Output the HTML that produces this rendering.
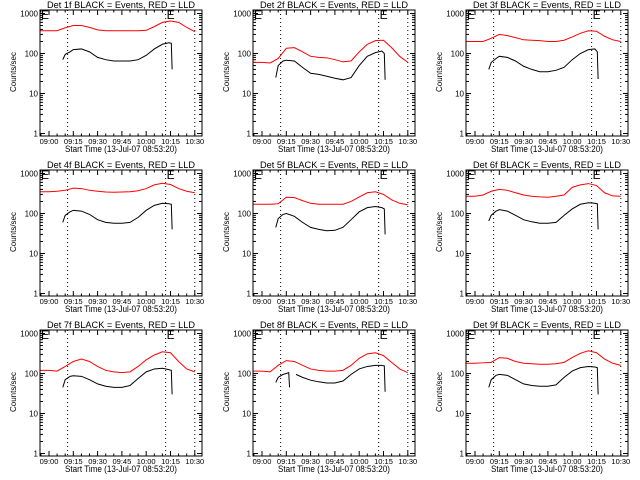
<!DOCTYPE html>
<html><head><meta charset="utf-8">
<style>
html,body{margin:0;padding:0;background:#fff;}
svg{display:block;font-family:"Liberation Sans",sans-serif;}
</style></head>
<body>
<svg id="chart" width="640" height="480" viewBox="0 0 640 480"></svg>
<script>
// ---- data (minutes after 09:00) ----
const panelTitles = ["Det 1f","Det 2f","Det 3f","Det 4f","Det 5f","Det 6f","Det 7f","Det 8f","Det 9f"];
const tickLabels = ["09:00","09:15","09:30","09:45","10:00","10:15","10:30"];
const tickMinutes = [0,15,30,45,60,75,90];
const yTickValues = [1,10,100,1000];
const yTickLabels = ["1","10","100","1000"];
const markerMinutes = [11.5,72,90];
const redT = [-5.5,0,5,10,15,20,25,30,35,40,45,50,55,60,65,70,75,80,85,90];
const red1 = [370,370,370,440,500,500,450,390,370,370,370,370,370,380,470,600,650,600,450,350];
const red2 = [60,60,58,75,135,140,110,85,80,78,70,62,65,110,170,210,215,140,85,60];
const red3 = [200,200,200,240,300,280,250,220,215,210,200,200,215,260,320,370,360,270,220,200];
const red4 = [350,350,360,380,430,420,380,360,345,340,345,350,370,420,520,570,530,420,360,330];
const red5 = [170,170,170,175,255,250,210,180,170,170,170,170,200,260,330,350,300,220,180,165];
const red6 = [270,270,290,360,400,380,330,290,270,260,255,270,290,450,520,560,500,330,275,270];
const red7 = [120,120,115,150,200,230,200,150,120,110,105,110,150,220,290,350,330,200,130,110];
const red8 = [115,115,110,160,210,200,160,130,120,115,115,120,160,240,310,330,280,190,130,105];
const red9 = [180,180,185,190,250,240,200,180,175,170,170,175,190,250,320,370,330,230,180,160];
const blackT = [8.5,10,13,15,20,25,30,35,40,45,50,55,60,65,70,74,75.5,76];
const black1 = [70,95,110,125,130,110,80,70,65,65,65,70,90,130,170,185,180,40];
const black2 = [25,50,65,68,65,45,32,30,27,24,22,25,50,85,105,115,100,22];
const black3 = [40,60,75,85,80,65,48,40,35,35,38,45,70,100,125,130,110,23];
const black4 = [60,90,110,120,115,95,70,60,57,57,60,80,120,160,180,175,170,40];
const black5 = [45,75,95,100,85,60,45,40,37,38,45,70,110,140,150,140,130,30];
const black6 = [65,90,115,125,115,90,70,62,57,57,60,90,130,170,185,180,175,40];
const black7 = [45,70,85,88,85,70,55,48,45,45,50,75,110,130,135,125,120,30];
const black8 = [60,80,95,100,null,80,68,62,58,58,65,95,130,150,160,160,155,35];
const black9 = [45,70,90,95,90,70,55,50,48,48,52,80,115,140,150,145,140,30];
const reds = [red1,red2,red3,red4,red5,red6,red7,red8,red9];
const blacks = [black1,black2,black3,black4,black5,black6,black7,black8,black9];
const black8gapT = [15,16.5,17,21];
const black8gapV = [100,105,45,95];

const NS="http://www.w3.org/2000/svg";
const svg=document.getElementById('chart');
function mk(tag,attrs,parent){const e=document.createElementNS(NS,tag);for(const k in attrs)e.setAttribute(k,attrs[k]);(parent||svg).appendChild(e);return e;}
const lefts=[40,253,466], tops=[10,170,330], W=162, H=126;

for(let p=0;p<9;p++){
  const L=lefts[p%3], T=tops[Math.floor(p/3)], B=T+H, R=L+W;
  const g=mk('g',{});
  
  
  const xs=t=>L+9+t*1.62;
  const ys=v=>B-2.5-40*Math.log10(v);
  const title=mk('text',{x:(L+R)/2,y:T-2,'text-anchor':'middle','font-size':'9.5',textLength:148,lengthAdjust:'spacingAndGlyphs'},g);
  title.textContent=panelTitles[p]+" BLACK = Events, RED = LLD";
  
  
  const yl=mk('text',{x:0,y:0,'text-anchor':'middle','font-size':'8',transform:`translate(${L-24},${T+62}) rotate(-90)`},g);
  yl.textContent="Counts/sec";
  
  
  const xl=mk('text',{x:L+81,y:B+16,'text-anchor':'middle','font-size':'9',textLength:112,lengthAdjust:'spacingAndGlyphs'},g);
  xl.textContent="Start Time (13-Jul-07 08:53:20)";
  
  
  for(let d=0;d<4;d++){
    const yy=ys(yTickValues[d]);
    mk('line',{x1:L,x2:L+5,y1:yy,y2:yy,stroke:'#000'},g);
    mk('line',{x1:R,x2:R-5,y1:yy,y2:yy,stroke:'#000'},g);
    const tl=mk('text',{x:L-2,y:yy+3,'text-anchor':'end','font-size':'8'},g);
    tl.textContent=yTickLabels[d];
    
    
    if(d<3)for(let m=2;m<10;m++){const y2=ys(yTickValues[d]*m);
      mk('line',{x1:L,x2:L+3,y1:y2,y2:y2,stroke:'#000'},g);
      mk('line',{x1:R,x2:R-3,y1:y2,y2:y2,stroke:'#000'},g);}
  }
  for(let i=0;i<tickMinutes.length;i++){
    const xx=xs(tickMinutes[i]);
    mk('line',{x1:xx,x2:xx,y1:B,y2:B-5,stroke:'#000'},g);
    mk('line',{x1:xx,x2:xx,y1:T,y2:T+5,stroke:'#000'},g);
    const tl=mk('text',{x:xx,y:B+8,'text-anchor':'middle','font-size':'7.5'},g);
    tl.textContent=tickLabels[i];
    
    
  }
  for(let t=-5;t<=90;t+=5){if(t%15===0)continue;const xx=xs(t);
    mk('line',{x1:xx,x2:xx,y1:B,y2:B-2.5,stroke:'#000'},g);
    mk('line',{x1:xx,x2:xx,y1:T,y2:T+2.5,stroke:'#000'},g);}
  markerMinutes.forEach(m=>{const xx=xs(m);
    const ln=mk('line',{x1:xx,x2:xx,y1:T,y2:B,stroke:'#000','stroke-dasharray':'1,3'},g);
    
    });
  [L+1,xs(markerMinutes[1])+1].forEach(xx=>{const e=mk('text',{x:xx,y:T+9,'font-size':'12'},g);e.textContent="E";
    
    });
  const rv=reds[p];
  const rp=mk('polyline',{fill:'none',stroke:'#f00','stroke-width':'1',points:redT.map((t,i)=>xs(t)+','+ys(rv[i])).join(' ')},g);
  
  
  const bv=blacks[p];
  let segs=[[]];
  blackT.forEach((t,i)=>{if(bv[i]==null){segs.push([]);return;}segs[segs.length-1].push(xs(t)+','+ys(bv[i]));});
  if(p===7){segs[0]=segs[0].concat([xs(black8gapT[1])+','+ys(black8gapV[1]),xs(black8gapT[2])+','+ys(black8gapV[2])]);
    segs[1].unshift(xs(black8gapT[3])+','+ys(black8gapV[3]));}
  segs.forEach(s=>{const bp=mk('polyline',{fill:'none',stroke:'#000','stroke-width':'1',points:s.join(' ')},g);
    
    });
  mk('rect',{x:L,y:T,width:W,height:H,fill:'none',stroke:'#000'},g);
}
</script>
</body></html>
